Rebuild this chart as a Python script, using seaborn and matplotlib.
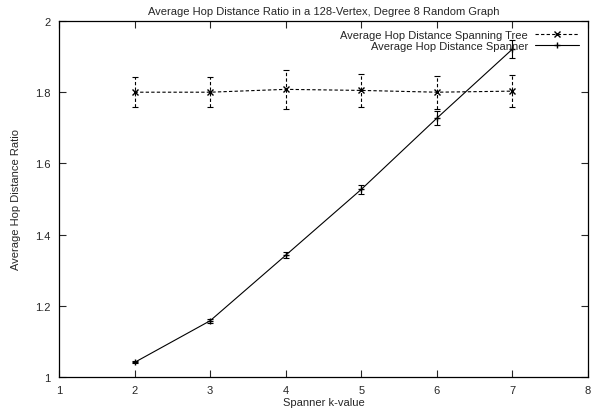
import matplotlib
matplotlib.use("Agg")
import matplotlib.pyplot as plt
import seaborn as sns
import pandas as pd

k_values = [2, 3, 4, 5, 6, 7]
tree_mean = [1.800, 1.800, 1.808, 1.805, 1.800, 1.803]
tree_err = [0.042, 0.042, 0.055, 0.047, 0.046, 0.044]
spanner_mean = [1.041, 1.158, 1.342, 1.527, 1.727, 1.921]
spanner_err = [0.003, 0.006, 0.009, 0.012, 0.020, 0.026]

tree_label = "Average Hop Distance Spanning Tree"
spanner_label = "Average Hop Distance Spanner"

sns.set_style("ticks")
plt.rcParams['font.family'] = ['Liberation Sans', 'DejaVu Sans']

fig = plt.figure(figsize=(5.98, 4.10), dpi=100)
ax = fig.add_axes([59/598, 1 - 378/410, (588-59)/598, (378-22)/410])

df = pd.DataFrame({
    "k": k_values * 2,
    "v": tree_mean + spanner_mean,
    "s": [tree_label] * len(k_values) + [spanner_label] * len(k_values),
})

sns.lineplot(data=df[df.s == tree_label], x="k", y="v", ax=ax, color="black",
             linestyle=(0, (3, 2)), linewidth=0.8, marker="x", markersize=4.5,
             markeredgewidth=1.0, markeredgecolor="black", label=tree_label)
sns.lineplot(data=df[df.s == spanner_label], x="k", y="v", ax=ax, color="black",
             linestyle="-", linewidth=0.8, marker="+", markersize=4.5,
             markeredgewidth=1.0, markeredgecolor="black", label=spanner_label)

eb1 = ax.errorbar(k_values, tree_mean, yerr=tree_err, fmt="none", ecolor="black",
                  elinewidth=0.8, capsize=2.5, capthick=0.8)
for c in eb1[2]:
    c.set_linestyle((0, (3, 2)))
ax.errorbar(k_values, spanner_mean, yerr=spanner_err, fmt="none", ecolor="black",
            elinewidth=0.8, capsize=2.5, capthick=0.8)

ax.set_xlim(1, 8)
ax.set_ylim(1, 2)
ax.set_xticks([1, 2, 3, 4, 5, 6, 7, 8])
ax.set_yticks([1, 1.2, 1.4, 1.6, 1.8, 2])
ax.set_yticklabels(["1", "1.2", "1.4", "1.6", "1.8", "2"])
ax.tick_params(direction="in", top=True, right=True, length=5, width=0.8,
               labelsize=8, pad=6)
for sp in ax.spines.values():
    sp.set_linewidth(0.9)
    sp.set_color("black")

ax.set_xlabel("Spanner k-value", fontsize=8, labelpad=1)
ax.set_ylabel("Average Hop Distance Ratio", fontsize=8, labelpad=10)
ax.set_title("Average Hop Distance Ratio in a 128-Vertex, Degree 8 Random Graph",
             fontsize=8, pad=5)

leg = ax.legend(loc="upper right", frameon=False, markerfirst=False, fontsize=8,
                handlelength=4.0, borderaxespad=0.6, borderpad=0.2,
                labelspacing=0.1, handletextpad=0.6)
for t in leg.get_texts():
    t.set_ha("right")
leg._legend_box.align = "right"

fig.savefig("out.png", dpi=100)
